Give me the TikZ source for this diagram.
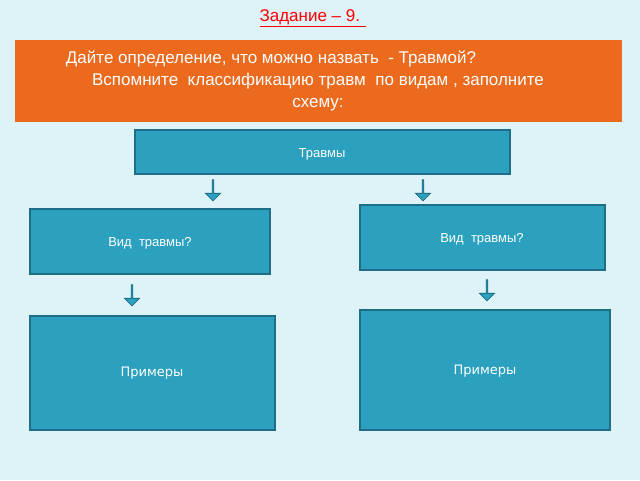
\documentclass[tikz,border=0pt]{standalone}
\usepackage{fontspec}
\setmainfont{Liberation Sans}
\newfontfamily\dejavu{DejaVu Sans}
\usetikzlibrary{shapes.arrows}
\definecolor{bgcol}{HTML}{DDF3F8}
\definecolor{boxcol}{HTML}{2BA1BF}
\definecolor{boxline}{HTML}{1E6E85}
\definecolor{orangecol}{HTML}{EB6A1E}
\tikzset{
    blok/.style={draw=boxline, line width=1.2pt, fill=boxcol},
    btext/.style={text=white, font=\fontsize{13}{15}\selectfont},
    dnarrow/.style={single arrow, draw=boxline, fill=boxcol, line width=0.8pt,
        shape border rotate=270, minimum width=15pt, minimum height=21pt,
        single arrow head extend=3.5pt, inner sep=0pt}
}
\begin{document}
\begin{tikzpicture}[x=1pt, y=-1pt]
    \fill[bgcol] (0, 0) rectangle (640, 480);
    \useasboundingbox (0, 0) rectangle (640, 480);
    % title
    \node[text=red, font=\fontsize{17}{19}\selectfont] (title) at (313, 18) {\underline{Задание – 9. }};
    \fill[orangecol] (15, 40) rectangle (622, 122);
    \node[text=white, align=center, font=\fontsize{17}{22}\selectfont] (task) at (318, 81)
        {\hspace*{-34pt}Дайте определение, что можно назвать\ \ - Травмой?\hspace*{60pt}\\
         Вспомните\ \ классификацию травм\ \ по видам , заполните\\ схему:};
    % boxes
    \draw[blok] (135, 130) rectangle (510, 174);
    \node[btext] (trauma) at (322, 154) {Травмы};
    \draw[blok] (30, 209) rectangle (270, 274);
    \node[btext] (typeL) at (150, 243) {Вид\ \ травмы?};
    \draw[blok] (360, 205) rectangle (605, 270);
    \node[btext] (typeR) at (482, 239) {Вид\ \ травмы?};
    \draw[blok] (30, 316) rectangle (275, 430);
    \node[btext, font=\dejavu\fontsize{13}{15}\selectfont] (exL) at (152, 373) {Примеры};
    \draw[blok] (360, 310) rectangle (610, 430);
    \node[btext, font=\dejavu\fontsize{13}{15}\selectfont] (exR) at (485, 371) {Примеры};
    % arrows
    \node[dnarrow] (a1) at (213, 190) {};
    \node[dnarrow] (a2) at (423, 190) {};
    \node[dnarrow] (a3) at (132, 295) {};
    \node[dnarrow] (a4) at (487, 290) {};
\end{tikzpicture}
\end{document}
